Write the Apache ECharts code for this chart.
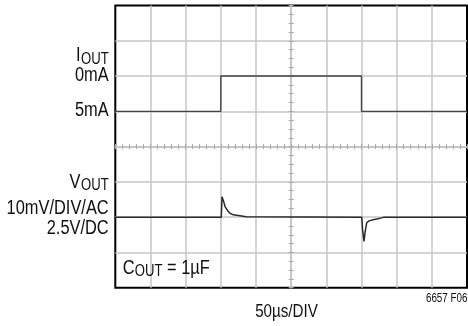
<!DOCTYPE html>
<html>
<head>
<meta charset="utf-8">
<script src="https://cdn.jsdelivr.net/npm/echarts@6/dist/echarts.min.js"></script>
<style>
  html, body { margin: 0; padding: 0; background: #fff; }
  #chart { width: 468px; height: 326px; }
</style>
</head>
<body>
<div id="chart"></div>
<script>
// Horizontal scale: 50 µs per division, 10 divisions
const timeSpanUs = [0, 500];
const usPerDiv = 50;

// Load current trace (mA); 5 mA per division, 0 mA drawn above 5 mA
const ioutTimeUs = [0, 150, 150, 350, 350, 500];
const ioutMA     = [5, 5, 0, 0, 5, 5];

// Output voltage trace, AC coupled (mV); 10 mV per division
const voutTimeUs = [0, 150.7, 151.7, 153.8, 156, 159.5, 163, 167.8, 177.3, 186, 350.3, 351.5, 353.6, 355, 357.4, 360.7, 366.4, 373.5, 378.7, 380, 382, 500];
const voutMV     = [0, 0,     5.8,   4.6,   3.0, 1.9,   1.1, 0.65,  0.4,   0.1, 0,     -3.5,  -6.9,  -4.4, -1.6,  -1.05, -0.75, -0.45, -0.2,  0.2,  0,   0];

// Vertical scales
const ioutRangeMA = [-10, 30];
const voutRangeMV = [-20, 60];

// Arial-metric sans, horizontally condensed to a narrow face
const FONT = "'Liberation Sans', Arial, sans-serif";
const NARROW = 0.82;
const INK = '#111';
const GRID_GRAY = '#c6c6c6';
const TICK_GRAY = '#a8a8a8';

const chart = echarts.init(document.getElementById('chart'), null, { renderer: 'canvas' });

// text width helper for placing subscripts next to their base letters
const measureCtx = document.createElement('canvas').getContext('2d');
function textWidth(str, size) {
  measureCtx.font = size + 'px ' + FONT;
  return measureCtx.measureText(str).width * NARROW;
}

function txt(str, x, y, size, align) {
  return {
    type: 'text', x: x, y: y, scaleX: NARROW, silent: true, z: 100,
    style: { text: str, fontSize: size, fontFamily: FONT, fill: INK, align: align, verticalAlign: 'middle' }
  };
}

const LABEL_RIGHT = 108.7;
const BIG = 20, SUB = 16;

const graphics = [];
// I_OUT
graphics.push(txt('OUT', LABEL_RIGHT, 59.5, SUB, 'right'));
graphics.push(txt('I', LABEL_RIGHT - textWidth('OUT', SUB) - 0.5, 55.5, BIG, 'right'));
graphics.push(txt('0mA', LABEL_RIGHT, 75.3, BIG, 'right'));
graphics.push(txt('5mA', LABEL_RIGHT, 110.3, BIG, 'right'));
// V_OUT
graphics.push(txt('OUT', LABEL_RIGHT, 186, SUB, 'right'));
graphics.push(txt('V', LABEL_RIGHT - textWidth('OUT', SUB) - 0.5, 182.5, BIG, 'right'));
graphics.push(txt('10mV/DIV/AC', LABEL_RIGHT, 208, BIG, 'right'));
graphics.push(txt('2.5V/DC', LABEL_RIGHT, 228.8, BIG, 'right'));
// C_OUT note inside the graticule
const cX = 122.7;
graphics.push(txt('C', cX, 268, BIG, 'left'));
const subX = cX + textWidth('C', BIG) + 0.3;
graphics.push(txt('OUT', subX, 272, SUB, 'left'));
graphics.push(txt('= 1µF', subX + textWidth('OUT', SUB) + textWidth(' ', BIG), 268, BIG, 'left'));
// time base and figure number
graphics.push(txt('50µs/DIV', 286.5, 311.5, 18.5, 'center'));
graphics.push(txt('6657 F06', 467.5, 298.5, 12, 'right'));

const hiddenAxisParts = {
  axisLine: { show: false }, axisTick: { show: false }, axisLabel: { show: false }
};

function centerRuler(dim, position, minorSplit) {
  const isX = dim === 'x';
  return {
    type: 'value',
    position: position,
    min: isX ? -5 : -4,
    max: isX ? 5 : 4,
    interval: 1,
    axisLine: { show: true, onZero: true, onZeroAxisIndex: isX ? 2 : 1, lineStyle: { color: GRID_GRAY, width: 1.5 } },
    axisTick: { show: true, length: 2.5, lineStyle: { color: TICK_GRAY, width: 1 } },
    minorTick: { show: true, splitNumber: minorSplit, length: 2.5, lineStyle: { color: TICK_GRAY, width: 1 } },
    axisLabel: { show: false },
    splitLine: { show: false }
  };
}

const option = {
  animation: false,
  backgroundColor: '#fff',
  grid: {
    left: 115.3, top: 5.5, width: 351.7, height: 282.2,
    show: true, borderColor: '#000', borderWidth: 2, backgroundColor: 'transparent'
  },
  xAxis: [
    Object.assign({
      type: 'value', min: timeSpanUs[0], max: timeSpanUs[1], interval: usPerDiv,
      splitLine: { show: true, showMinLine: false, showMaxLine: false, lineStyle: { color: GRID_GRAY, width: 1.5 } }
    }, hiddenAxisParts),
    centerRuler('x', 'bottom', 5),
    centerRuler('x', 'top', 5)
  ],
  yAxis: [
    Object.assign({
      type: 'value', min: ioutRangeMA[0], max: ioutRangeMA[1], interval: 5, inverse: true,
      splitLine: { show: true, showMinLine: false, showMaxLine: false, lineStyle: { color: GRID_GRAY, width: 1.5 } }
    }, hiddenAxisParts),
    { type: 'value', show: false, min: voutRangeMV[0], max: voutRangeMV[1], interval: 10, splitLine: { show: false } },
    centerRuler('y', 'left', 4),
    centerRuler('y', 'right', 4)
  ],
  series: [
    {
      name: 'IOUT', type: 'line', xAxisIndex: 0, yAxisIndex: 0,
      data: ioutTimeUs.map((t, i) => [t, ioutMA[i]]),
      symbol: 'none', silent: true, z: 10,
      lineStyle: { color: '#444', width: 1.4 }
    },
    {
      name: 'VOUT', type: 'line', xAxisIndex: 0, yAxisIndex: 1,
      data: voutTimeUs.map((t, i) => [t, voutMV[i]]),
      symbol: 'none', silent: true, z: 10,
      lineStyle: { color: '#2a2a2a', width: 1.5 }
    }
  ],
  graphic: graphics
};

chart.setOption(option);
</script>
</body>
</html>
